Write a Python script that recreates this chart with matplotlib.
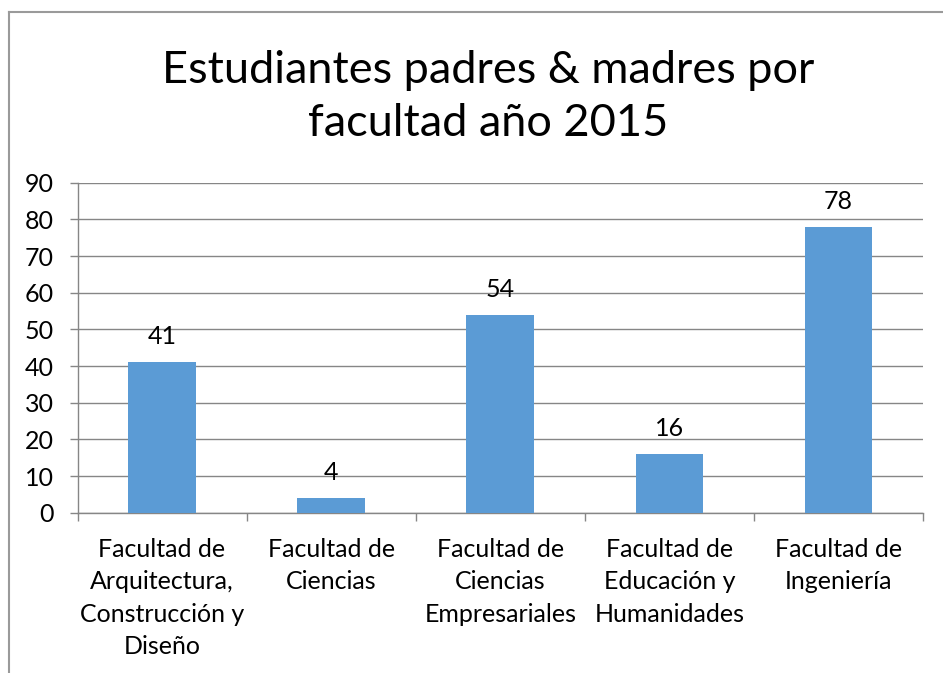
import matplotlib
matplotlib.use("Agg")
import matplotlib.pyplot as plt
from matplotlib.lines import Line2D

categories = ["Facultad de\nArquitectura,\nConstrucción y\nDiseño",
              "Facultad de\nCiencias",
              "Facultad de\nCiencias\nEmpresariales",
              "Facultad de\nEducación y\nHumanidades",
              "Facultad de\nIngeniería"]
values = [41, 4, 54, 16, 78]
yticks = [0, 10, 20, 30, 40, 50, 60, 70, 80, 90]
title = "Estudiantes padres & madres por\nfacultad año 2015"

plt.rcParams['font.family'] = ['Lato', 'DejaVu Sans']

W, H = 943, 673
fig = plt.figure(figsize=(W / 100, H / 100), dpi=100)

x0, x1 = 77.5, 923
y0, y1 = 512.7, 182.7
ax = fig.add_axes([x0 / W, 1 - y0 / H, (x1 - x0) / W, (y0 - y1) / H])

grid_c = "#868686"
bar_c = "#5B9BD5"
fs = 18
n = len(categories)
pos = list(range(n))
ax.bar(pos, values, width=0.4, color=bar_c, zorder=3)
ax.set_xlim(-0.5, n - 0.5)
ax.set_ylim(0, 90)
ax.set_yticks(yticks)
ax.set_yticklabels([str(t) for t in yticks], fontsize=fs)
ax.yaxis.grid(True, color=grid_c, linewidth=1.0, zorder=0)
ax.tick_params(axis='y', length=6, color=grid_c, width=1.0, pad=11)
ax.set_xticks([p - 0.5 for p in range(n + 1)], minor=False)
ax.set_xticklabels([])
ax.tick_params(axis='x', length=6, color=grid_c, width=1.0, direction='out')
for s in ['top', 'right']:
    ax.spines[s].set_visible(False)
for s in ['left', 'bottom']:
    ax.spines[s].set_color(grid_c)
    ax.spines[s].set_linewidth(1.0)

for p, c in zip(pos, categories):
    ax.text(p, -7.0, c, ha='center', va='top', fontsize=fs,
            linespacing=1.48, color='black')
for p, v in zip(pos, values):
    ax.annotate(str(v), (p, v), xytext=(0, 10), textcoords='offset points',
                ha='center', va='bottom', fontsize=fs, color='black')

fig.text(488 / W, 1 - 97 / H, title, ha='center', va='center',
         fontsize=32.5, linespacing=1.36, color='black')

fig.add_artist(Line2D([8.5 / W, 8.5 / W], [0, 1 - 11.5 / H],
                      transform=fig.transFigure, color="#9a9a9a", lw=1.5))
fig.add_artist(Line2D([8.5 / W, 1], [1 - 11.5 / H, 1 - 11.5 / H],
                      transform=fig.transFigure, color="#9a9a9a", lw=1.5))

fig.savefig("out.png", dpi=100)
